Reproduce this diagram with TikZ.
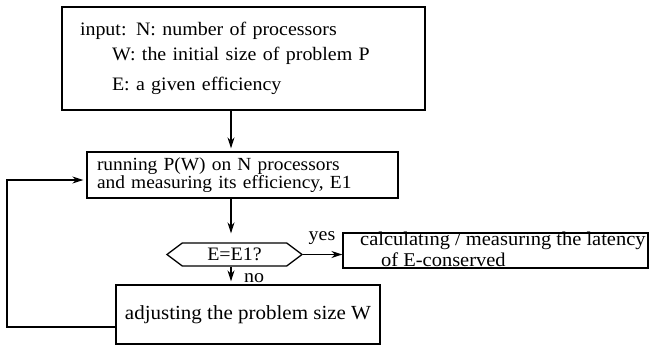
\documentclass[tikz,border=0pt]{standalone}
\usepackage{fontspec}
\setmainfont{Liberation Serif}[FakeStretch=1.05]
\usetikzlibrary{arrows.meta,shapes.symbols}

\begin{document}
\begin{tikzpicture}[x=1pt,y=-1pt,font=\fontsize{19}{25}\selectfont]
\tikzstyle{b} = [rectangle, draw=black, line width=1.3pt, inner sep=0pt]
\tikzstyle{e} = [draw=black, line width=1.3pt]
\tikzstyle{a} = [e, -{Stealth[length=11pt,width=7pt]}]
\tikzstyle{l} = [inner sep=0pt]

\useasboundingbox (0,0) rectangle (651,351);

\node[b, minimum width=363pt, minimum height=103pt, text width=327pt, align=left] (in) at (243.5,58.5)
  {input: N: number of processors\\
   \hspace*{32pt}W: the initial size of problem P\\[5pt]
   \hspace*{32pt}E: a given efficiency};
\node[b, minimum width=311pt, minimum height=46pt, text width=291pt, align=left,
      font=\fontsize{18.5}{16}\selectfont] (run) at (242.5,175)
  {running P(W) on N processors\\and measuring its efficiency, E1};
\node[e, signal, signal to=east and west, signal pointer angle=74,
      minimum width=135pt, minimum height=23pt, inner sep=0pt] (test) at (234.5,254.5) {E=E1?};
\node[b, minimum width=305pt, minimum height=35pt] (calc) at (495.5,250.5) {};
\node[l, anchor=base west, align=left, font=\fontsize{19.5}{21}\selectfont] (calctext) at (360,266)
  {calculating / measuring the latency\\\hspace*{21pt}of E-conserved};
\node[b, minimum width=264pt, minimum height=59pt, font=\fontsize{20}{24}\selectfont] (adjust) at (248,314.5)
  {adjusting the problem size W};
\node[l] (yes) at (322,238) {yes};
\node[l] (no) at (254,278) {no};

\coordinate (c) at (231,0);
\coordinate (lb) at (7,327);
\coordinate (lt) at (7,180);

\draw[a, shorten >=3pt] (in.south -| c) -- (run.north -| c);
\draw[a, shorten >=9pt] (run.south -| c) -- (test.north -| c);
\draw[a] (test.east) -- (test.east -| calc.west);
\draw[a, shorten >=3pt] (test.south -| c) -- (adjust.north -| c);
\draw[a, shorten >=3pt] (adjust.west |- lb) -- (lb) -- (lt) -- (run.west |- lt);
\end{tikzpicture}
\end{document}
